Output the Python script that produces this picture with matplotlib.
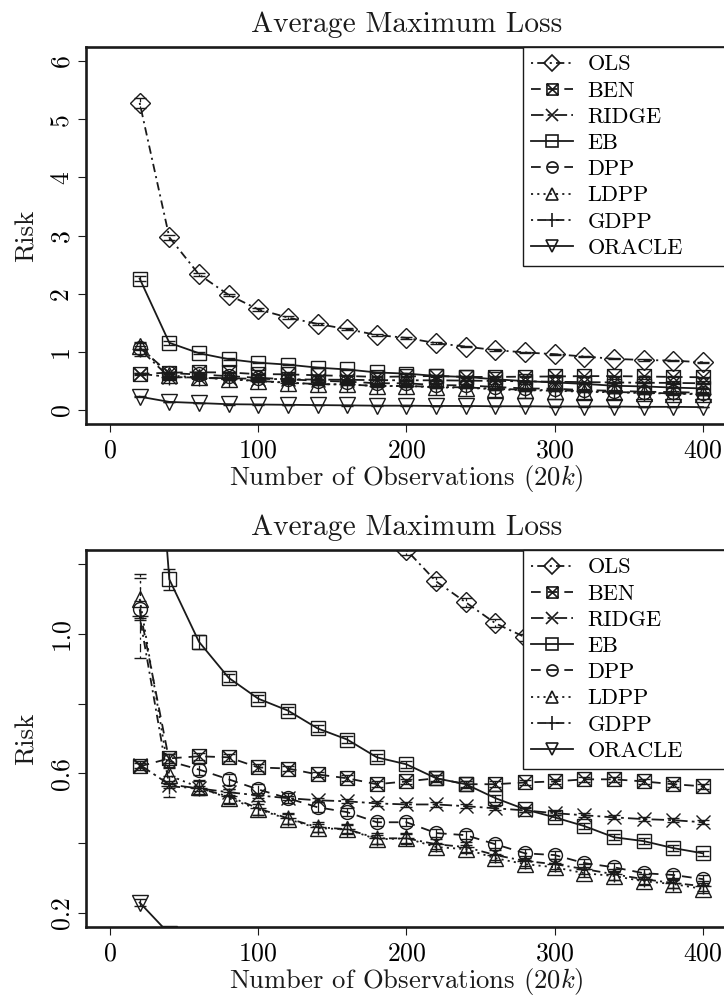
import matplotlib
matplotlib.use('Agg')
import matplotlib.pyplot as plt
import numpy as np
from matplotlib.path import Path
from matplotlib.lines import Line2D

plt.rcParams['font.family'] = ['cmr10', 'DejaVu Serif']
plt.rcParams['mathtext.fontset'] = 'cm'
plt.rcParams['axes.formatter.use_mathtext'] = True
plt.rcParams['lines.scale_dashes'] = False

# data
n_obs = [20, 40, 60, 80, 100, 120, 140, 160, 180, 200,
         220, 240, 260, 280, 300, 320, 340, 360, 380, 400]
ols = [5.28, 2.97, 2.33, 1.98, 1.73, 1.59, 1.48, 1.39, 1.29, 1.24,
       1.15, 1.09, 1.03, 0.99, 0.96, 0.92, 0.88, 0.86, 0.85, 0.82]
ben = [0.620, 0.643, 0.649, 0.646, 0.617, 0.614, 0.597, 0.586, 0.569, 0.577,
       0.586, 0.569, 0.569, 0.574, 0.577, 0.583, 0.583, 0.577, 0.569, 0.563]
ridge = [0.625, 0.568, 0.557, 0.546, 0.537, 0.529, 0.523, 0.520, 0.514, 0.511,
         0.511, 0.506, 0.500, 0.494, 0.486, 0.480, 0.474, 0.469, 0.466, 0.460]
eb = [2.26, 1.156, 0.977, 0.874, 0.814, 0.780, 0.729, 0.697, 0.646, 0.626,
      0.586, 0.569, 0.529, 0.497, 0.474, 0.449, 0.417, 0.406, 0.386, 0.371]
dpp = [1.07, 0.635, 0.611, 0.583, 0.554, 0.529, 0.503, 0.489, 0.460, 0.460,
       0.429, 0.423, 0.397, 0.371, 0.366, 0.343, 0.331, 0.314, 0.309, 0.297]
ldpp = [1.10, 0.594, 0.560, 0.529, 0.497, 0.469, 0.443, 0.440, 0.411, 0.414,
        0.389, 0.383, 0.357, 0.340, 0.331, 0.314, 0.306, 0.291, 0.283, 0.269]
gdpp = [1.05, 0.563, 0.557, 0.534, 0.500, 0.471, 0.446, 0.440, 0.414, 0.414,
        0.397, 0.389, 0.366, 0.349, 0.340, 0.326, 0.311, 0.297, 0.286, 0.277]
oracle = [0.23, 0.14, 0.12, 0.10, 0.095, 0.09, 0.085, 0.08, 0.075, 0.075,
          0.07, 0.07, 0.065, 0.065, 0.06, 0.06, 0.06, 0.055, 0.055, 0.05]

# standard errors (error bars)
ols_se = [0.08, 0.04, 0.03, 0.02, 0.02, 0.02, 0.015, 0.015, 0.015, 0.015,
          0.012, 0.012, 0.012, 0.01, 0.01, 0.01, 0.01, 0.01, 0.01, 0.01]
ben_se = [0.01, 0.012, 0.01, 0.01, 0.01, 0.008, 0.008, 0.008, 0.008, 0.008,
          0.008, 0.008, 0.008, 0.008, 0.008, 0.008, 0.008, 0.008, 0.008, 0.008]
ridge_se = [0.01, 0.01, 0.008, 0.008, 0.008, 0.006, 0.006, 0.006, 0.006, 0.006,
            0.006, 0.006, 0.006, 0.006, 0.006, 0.006, 0.006, 0.006, 0.006, 0.006]
eb_se = [0.05, 0.03, 0.02, 0.012, 0.01, 0.01, 0.01, 0.01, 0.01, 0.01,
         0.01, 0.01, 0.01, 0.008, 0.008, 0.008, 0.008, 0.008, 0.008, 0.008]
dpp_se = [0.025, 0.02, 0.015, 0.015, 0.015, 0.015, 0.015, 0.012, 0.012, 0.012,
          0.012, 0.012, 0.012, 0.012, 0.012, 0.012, 0.012, 0.012, 0.012, 0.012]
ldpp_se = [0.06, 0.025, 0.02, 0.018, 0.015, 0.015, 0.012, 0.012, 0.012, 0.012,
           0.012, 0.012, 0.012, 0.012, 0.012, 0.012, 0.012, 0.012, 0.012, 0.012]
gdpp_se = [0.12, 0.03, 0.02, 0.02, 0.02, 0.015, 0.015, 0.015, 0.015, 0.015,
           0.015, 0.015, 0.015, 0.015, 0.015, 0.015, 0.015, 0.015, 0.015, 0.015]
oracle_se = [0.01, 0.005, 0.005, 0.005, 0.004, 0.004, 0.004, 0.004, 0.004, 0.004,
             0.004, 0.004, 0.004, 0.004, 0.004, 0.004, 0.004, 0.004, 0.004, 0.004]

labels = ['OLS', 'BEN', 'RIDGE', 'EB', 'DPP', 'LDPP', 'GDPP', 'ORACLE']
values = [ols, ben, ridge, eb, dpp, ldpp, gdpp, oracle]
errors = [ols_se, ben_se, ridge_se, eb_se, dpp_se, ldpp_se, gdpp_se, oracle_se]

# square with an x inside (R pch 7)
sqx = Path([(-1, -1), (1, -1), (1, 1), (-1, 1), (-1, -1),
            (-1, -1), (1, 1), (-1, 1), (1, -1)],
           [Path.MOVETO, Path.LINETO, Path.LINETO, Path.LINETO, Path.CLOSEPOLY,
            Path.MOVETO, Path.LINETO, Path.MOVETO, Path.LINETO])

dotdash = (0, (1.5, 3, 6, 3))
dashed = (0, (7, 5))
twodash = (0, (9, 3, 2, 3))
dotted = (0, (1.5, 3))
styles = [dotdash, dashed, twodash, 'solid', dashed, dotted, dotdash, 'solid']
markers = ['D', sqx, 'x', 's', 'o', '^', '+', 'v']
msizes = [10.5, 10, 10.5, 10, 10, 11, 12, 11]

col = '#1a1a1a'
fs = 18.5

fig = plt.figure(figsize=(7.24, 9.96), dpi=100)
ax1 = fig.add_axes([0.1192, 0.5743, 0.8845, 0.3785])
ax2 = fig.add_axes([0.1192, 0.0693, 0.8845, 0.3785])


def draw_panel(ax, ylim, yticks, yticklabels):
    for i in range(len(labels)):
        eb_ = ax.errorbar(n_obs, values[i], yerr=errors[i], color=col,
                          linestyle=styles[i], linewidth=1.3,
                          marker=markers[i], markersize=msizes[i],
                          markerfacecolor='none', markeredgewidth=1.0,
                          ecolor=col, elinewidth=0.9, capsize=4.3, capthick=0.9)
        eb_[2][0].set_linestyle(styles[i])
    ax.set_xlim(-16, 416)
    ax.set_ylim(ylim[0] - 0.04 * (ylim[1] - ylim[0]), ylim[1] + 0.04 * (ylim[1] - ylim[0]))
    ax.set_xticks([0, 100, 200, 300, 400])
    ax.set_yticks(yticks)
    ax.set_yticklabels(yticklabels, rotation=90, va='center')
    ax.tick_params(length=5.5, width=0.8, color=col, labelsize=fs, pad=5)
    ax.tick_params(axis='y', pad=4)
    for s in ax.spines.values():
        s.set_linewidth(1.9)
        s.set_color(col)
    ax.set_title('Average Maximum Loss', fontsize=21.2, pad=11, color=col)
    ax.set_xlabel(r'Number of Observations (20$k$)', fontsize=19.2, labelpad=0.5, color=col)
    ax.set_ylabel('Risk', fontsize=19.5, labelpad=8, color=col)

    handles = [Line2D([0], [0], color=col, linestyle=styles[i], linewidth=1.3,
                      marker=markers[i], markersize=msizes[i] * 0.8,
                      markerfacecolor='none', markeredgewidth=1.2)
               for i in range(len(labels))]
    leg = ax.legend(handles, labels, loc='upper left', mode='expand',
                    bbox_to_anchor=(0.682, 0.0, 0.32, 1.0), borderaxespad=0,
                    fontsize=16, handlelength=1.9, handletextpad=0.65,
                    labelspacing=0.3, borderpad=0.35, fancybox=False,
                    framealpha=1, edgecolor=col)
    leg.get_frame().set_linewidth(1.0)


draw_panel(ax1, (0, 6), [0, 1, 2, 3, 4, 5, 6], ['0', '1', '2', '3', '4', '5', '6'])
draw_panel(ax2, (0.2, 1.2), [0.2, 0.4, 0.6, 0.8, 1.0, 1.2], ['0.2', '', '0.6', '', '1.0', ''])

fig.savefig('out.png', dpi=100)
